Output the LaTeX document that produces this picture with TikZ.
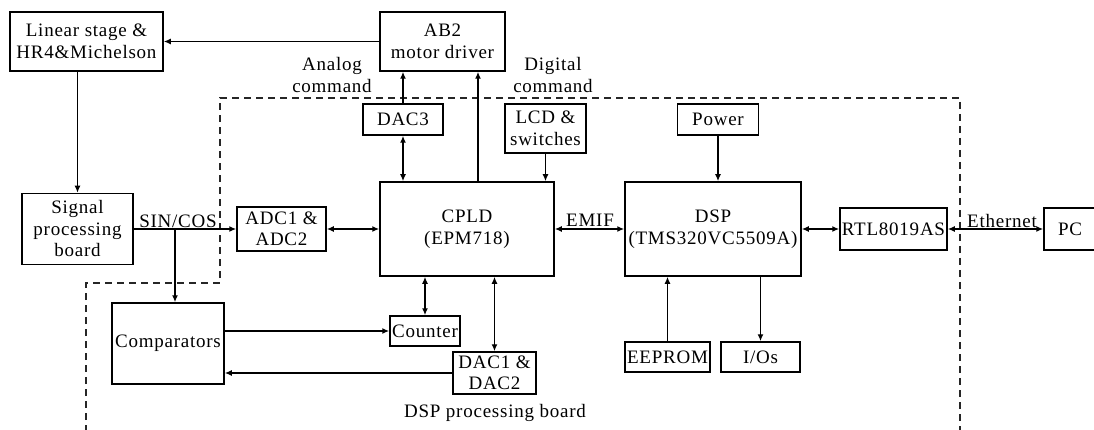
\documentclass[tikz,border=0pt]{standalone}
\usepackage{fontspec}
\setmainfont[LetterSpace=4]{Liberation Serif}
\usetikzlibrary{arrows.meta,positioning,calc}
\tikzset{
 box/.style={draw=black,line width=1.5pt,align=center,inner sep=0pt,font=\fontsize{19}{21.5}\selectfont},
 lbl/.style={align=center,inner sep=1pt,font=\fontsize{19}{21.5}\selectfont},
 arr/.style={-{Latex[length=7pt,width=6pt]},line width=1.5pt,draw=black},
 both/.style={{Latex[length=7pt,width=6pt]}-{Latex[length=7pt,width=6pt]},line width=1.5pt,draw=black},
 frame/.style={line width=1.5pt,dash pattern=on 7pt off 5pt,draw=black!85}
}
\begin{document}
\begin{tikzpicture}[x=1pt,y=-1pt]
\useasboundingbox (0,0) rectangle (1094,430);
% DSP processing board outline
\draw[frame] (86,432) -- (86,283) -- (220,283) -- (220,98) -- (960,98) -- (960,432);
% Outside the board
\node[box,minimum width=153pt,minimum height=59pt] (lin) at (86.5,41.5) {Linear stage \&\\HR4\&Michelson};
\node[box,minimum width=125pt,minimum height=59pt] (ab) at (442.5,41.5) {AB2\\motor driver};
\node[box,minimum width=111pt,minimum height=71pt] (sig) at (77.5,229) {Signal\\processing\\board};
\node[box,minimum width=52pt,minimum height=42pt] (pc) at (1070,229) {PC};
% On the board
\node[box,minimum width=89pt,minimum height=44pt] (adc) at (281.5,229) {ADC1 \&\\ADC2};
\node[box,minimum width=174pt,minimum height=94pt] (cpld) at (467,229) {CPLD\\(EPM718)};
\node[box,minimum width=176pt,minimum height=94pt] (dsp) at (713,229) {DSP\\(TMS320VC5509A)};
\node[box,minimum width=107pt,minimum height=42pt] (rtl) at (893.5,229) {RTL8019AS};
\node[box,minimum width=80pt,minimum height=31pt] (dacc) at (403,119.5) {DAC3};
\node[box,minimum width=81pt,minimum height=49pt] (lcd) at (545.5,128.5) {LCD \&\\switches};
\node[box,minimum width=81pt,minimum height=31pt] (pwr) at (718,119.5) {Power};
\node[box,minimum width=112pt,minimum height=81pt] (cmp) at (168,343.5) {Comparators};
\node[box,minimum width=70pt,minimum height=30pt] (cnt) at (425,331) {Counter};
\node[box,minimum width=83pt,minimum height=42pt] (dac) at (494.5,373) {DAC1 \&\\DAC2};
\node[box,minimum width=85pt,minimum height=30pt] (eep) at (667.5,357) {EEPROM};
\node[box,minimum width=79pt,minimum height=30pt] (ios) at (760.5,357) {I/Os};
% Labels
\node[lbl] (ana) at (332,75) {Analog\\command};
\node[lbl] (dig) at (553,75) {Digital\\command};
\node[lbl] (sc) at (178,221) {SIN/COS};
\node[lbl] (emif) at (590,220) {EMIF};
\node[lbl] (eth) at (1002,221) {Ethernet};
\node[lbl] (brd) at (495,413) {DSP processing board};
% Connectors
\draw[arr] (ab.west) -- (lin.east);
\draw[arr] (sig.north |- lin.south) -- (sig.north);
\draw[arr] (sig.east) -- (adc.west);
\coordinate (br) at (175,229);
\draw[arr] (br) -- (br |- cmp.north);
\draw[both] (adc.east) -- (cpld.west);
\draw[both] (cpld.east) -- (dsp.west);
\draw[both] (dsp.east) -- (rtl.west);
\draw[both] (rtl.east) -- (pc.west);
\draw[arr] (dacc.north) -- (dacc.north |- ab.south);
\draw[both] (dacc.south) -- (dacc.south |- cpld.north);
\coordinate (cmd) at ([xshift=11pt]cpld.north);
\draw[arr] (cmd) -- (cmd |- ab.south);
\draw[arr] (lcd.south) -- (lcd.south |- cpld.north);
\draw[arr] (pwr.south) -- (pwr.south |- dsp.north);
\draw[both] (cnt.north |- cpld.south) -- (cnt.north);
\draw[both] (dac.north |- cpld.south) -- (dac.north);
\draw[arr] (cmp.east |- cnt.west) -- (cnt.west);
\draw[arr] (dac.west) -- (dac.west -| cmp.east);
\draw[arr] (eep.north) -- (eep.north |- dsp.south);
\draw[arr] (ios.north |- dsp.south) -- (ios.north);
\end{tikzpicture}
\end{document}
